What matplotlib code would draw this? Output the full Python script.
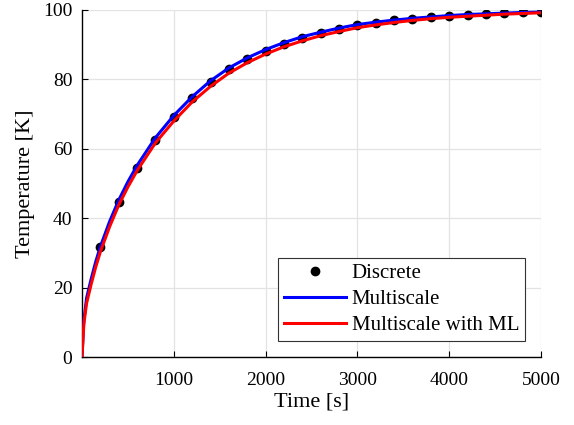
import matplotlib.pyplot as plt

plt.rcParams['font.family'] = ['Liberation Serif', 'DejaVu Serif']
plt.rcParams['mathtext.fontset'] = 'stix'

# discrete solution (markers)
t_disc = [200, 400, 600, 800, 1000, 1200, 1400, 1600, 1800, 2000, 2200, 2400,
          2600, 2800, 3000, 3200, 3400, 3600, 3800, 4000, 4200, 4400, 4600,
          4800, 5000]
T_disc = [31.7, 44.7, 54.5, 62.5, 69.2, 74.6, 79.3, 83.0, 85.8, 88.3, 90.3,
          92.0, 93.4, 94.6, 95.6, 96.3, 97.0, 97.5, 97.9, 98.3, 98.6, 98.9,
          99.1, 99.3, 99.4]

# multiscale curves
t_line = [0, 20, 50, 100, 150, 200, 300, 400, 500, 600, 800, 1000, 1200, 1400,
          1600, 1800, 2000, 2200, 2400, 2600, 2800, 3000, 3200, 3400, 3600,
          3800, 4000, 4200, 4400, 4600, 4800, 5000]
T_multi = [0, 10.5, 17.0, 22.5, 27.5, 31.8, 39.0, 45.2, 50.5, 55.2, 63.2,
           69.6, 75.0, 79.6, 83.3, 86.2, 88.6, 90.6, 92.3, 93.6, 94.8, 95.8,
           96.5, 97.1, 97.6, 98.0, 98.4, 98.7, 98.9, 99.1, 99.3, 99.4]
T_ml = [0, 9.5, 15.5, 21.0, 26.0, 30.3, 37.5, 43.8, 49.0, 53.7, 61.7, 68.0,
        73.5, 78.0, 81.8, 84.8, 87.3, 89.4, 91.1, 92.6, 93.8, 94.9, 95.7,
        96.4, 97.0, 97.5, 97.9, 98.2, 98.5, 98.8, 99.0, 99.2]

x_ticks = [1000, 2000, 3000, 4000, 5000]
y_ticks = [0, 20, 40, 60, 80, 100]

fig = plt.figure(figsize=(5.74, 4.25), dpi=100)
ax = fig.add_axes([82 / 574, 68 / 425, 459 / 574, 347 / 425])

ax.plot(t_disc, T_disc, 'o', color='black', markersize=6, label='Discrete', zorder=3)
ax.plot(t_line, T_multi, '-', color='#0000ff', linewidth=2.2, label='Multiscale', zorder=4)
ax.plot(t_line, T_ml, '-', color='#ff0000', linewidth=2.2, label='Multiscale with ML', zorder=5)

ax.set_xlim(0, 5000)
ax.set_ylim(0, 100)
ax.set_xticks(x_ticks)
ax.set_yticks(y_ticks)
ax.grid(True, color='#e3e3e3', linewidth=0.9)
ax.set_axisbelow(True)
for s in ['top', 'right']:
    ax.spines[s].set_visible(False)
ax.spines['left'].set_linewidth(1.0)
ax.spines['bottom'].set_linewidth(1.0)
ax.tick_params(direction='in', length=4, labelsize=14)
ax.tick_params(axis='x', pad=11)
ax.tick_params(axis='y', pad=7)

ax.set_xlabel('Time [s]', fontsize=16, labelpad=2)
ax.set_ylabel('Temperature [K]', fontsize=16, labelpad=6)

leg = ax.legend(loc='lower right', fontsize=15, frameon=True, fancybox=False,
                edgecolor='#333333', handlelength=3.0, borderpad=0.3,
                labelspacing=0.3, handletextpad=0.25, borderaxespad=0.75,
                framealpha=1)
leg.get_frame().set_linewidth(0.8)

fig.savefig('out.png', dpi=100)
